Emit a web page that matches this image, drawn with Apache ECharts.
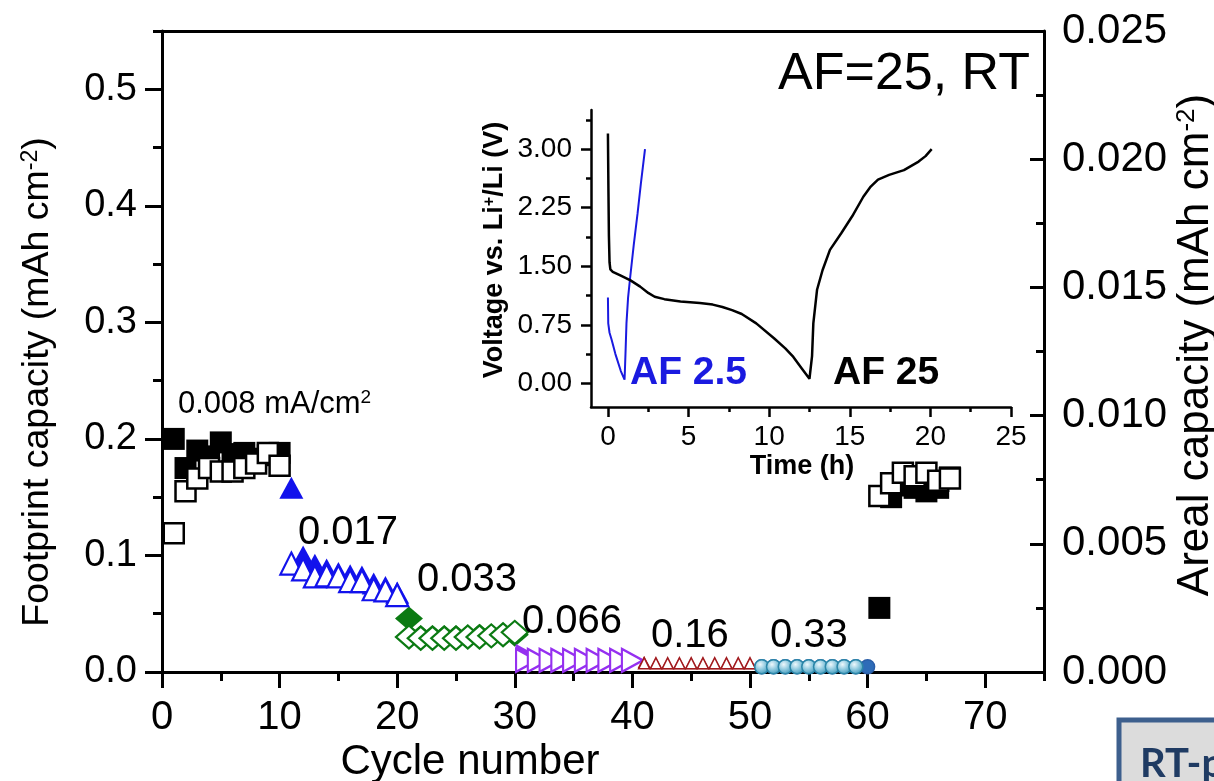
<!DOCTYPE html>
<html>
<head>
<meta charset="utf-8">
<title>Footprint capacity vs cycle number</title>
<script src="https://cdn.jsdelivr.net/npm/echarts@6/dist/echarts.min.js"></script>
<style>
  html, body { margin: 0; padding: 0; background: #fff; }
  #chart { width: 1214px; height: 781px; }
</style>
</head>
<body>
<div id="chart"></div>
<script>
// ---- Cycling data: footprint capacity (mAh cm^-2) per current-density step ----
// 0.008 mA/cm2
const cyclesA    = [1, 2, 3, 4, 5, 6, 7, 8, 9, 10];
const dischargeA = [0.200, 0.175, 0.190, 0.185, 0.197, 0.187, 0.188, 0.183, 0.186, 0.188];
const chargeA    = [0.119, 0.155, 0.166, 0.175, 0.172, 0.172, 0.175, 0.179, 0.188, 0.177];
// 0.017
const cyclesB    = [11, 12, 13, 14, 15, 16, 17, 18, 19, 20];
const dischargeB = [0.158, 0.099, 0.092, 0.088, 0.085, 0.083, 0.082, 0.076, 0.073, 0.068];
const chargeB    = [0.093, 0.088, 0.082, 0.083, 0.082, 0.078, 0.078, 0.071, 0.070, 0.066];
// 0.033
const cyclesC    = [21, 22, 23, 24, 25, 26, 27, 28, 29, 30];
const dischargeC = [0.046, 0.030, 0.030, 0.030, 0.030, 0.030, 0.031, 0.031, 0.032, 0.032];
const chargeC    = [0.030, 0.029, 0.029, 0.029, 0.029, 0.030, 0.030, 0.031, 0.032, 0.034];
// 0.066
const cyclesD    = [31, 32, 33, 34, 35, 36, 37, 38, 39, 40];
const dischargeD = [0.014, 0.010, 0.010, 0.010, 0.010, 0.010, 0.010, 0.010, 0.010, 0.010];
const chargeD    = [0.010, 0.010, 0.010, 0.010, 0.010, 0.010, 0.010, 0.010, 0.010, 0.010];
// 0.16
const cyclesE    = [41, 42, 43, 44, 45, 46, 47, 48, 49, 50];
const dischargeE = [0.0085, 0.0075, 0.0075, 0.0075, 0.0075, 0.0075, 0.0075, 0.0075, 0.0075, 0.0075];
const chargeE    = [0.0075, 0.0075, 0.0075, 0.0075, 0.0075, 0.0075, 0.0075, 0.0075, 0.0075, 0.0075];
// 0.33
const cyclesF    = [51, 52, 53, 54, 55, 56, 57, 58, 59, 60];
const dischargeF = [0.0045, 0.0045, 0.0045, 0.0045, 0.0045, 0.0045, 0.0045, 0.0045, 0.0045, 0.0045];
const chargeF    = [0.0045, 0.0045, 0.0045, 0.0045, 0.0045, 0.0045, 0.0045, 0.0045, 0.0045, null];
// back to 0.008
const cyclesG    = [61, 62, 63, 64, 65, 66, 67];
const dischargeG = [0.055, 0.150, 0.160, 0.158, 0.155, 0.158, 0.167];
const chargeG    = [0.151, 0.162, 0.171, 0.168, 0.171, 0.164, 0.166];

// Step labels (current densities)
const stepLabels = ['0.017', '0.033', '0.066', '0.16', '0.33'];

// Axis ticks
const cycleTicks      = [0, 10, 20, 30, 40, 50, 60, 70];
const cycleMinorTicks = [5, 15, 25, 35, 45, 55, 65, 75];
const footTicks       = [0, 0.1, 0.2, 0.3, 0.4, 0.5];
const footMinorTicks  = [0.05, 0.15, 0.25, 0.35, 0.45, 0.55];
const arealTicks      = [0, 0.005, 0.010, 0.015, 0.020, 0.025];
const arealMinorTicks = [0.0025, 0.0075, 0.0125, 0.0175, 0.0225];

// ---- Inset: voltage profiles ----
const timeAF25 = [0, 0.03, 0.06, 0.1, 0.15, 0.3, 0.8, 1.4, 2.0, 2.5, 2.9, 3.5, 4.5, 5.7, 6.5, 7.1, 7.7, 8.3, 9.2, 10.3, 11.0, 11.5, 12.0, 12.5, 12.6,
                  12.66, 12.74, 12.97, 13.31, 13.77, 14.46, 15.15, 15.84, 16.30, 16.75, 17.44, 18.36, 19.27, 19.7, 20.08];
const voltAF25 = [3.2, 2.5, 1.9, 1.55, 1.46, 1.43, 1.38, 1.32, 1.24, 1.16, 1.11, 1.08, 1.05, 1.03, 1.01, 0.98, 0.94, 0.89, 0.77, 0.58, 0.45, 0.34, 0.20, 0.06, 0.04,
                  0.35, 0.77, 1.20, 1.45, 1.71, 1.92, 2.14, 2.39, 2.52, 2.61, 2.67, 2.73, 2.84, 2.91, 3.0];
const timeAF2_5 = [0, 0.02, 0.1, 0.23, 0.46, 0.8, 1.03, 1.05, 1.1, 1.15, 1.25, 1.38, 1.6, 1.84, 2.05, 2.3];
const voltAF2_5 = [1.1, 0.77, 0.65, 0.56, 0.38, 0.16, 0.05, 0.15, 0.45, 0.77, 1.10, 1.36, 1.77, 2.18, 2.57, 3.0];

const timeTicks       = [0, 5, 10, 15, 20, 25];
const timeMinorTicks  = [2.5, 7.5, 12.5, 17.5, 22.5];
const voltTicks       = [0, 0.75, 1.5, 2.25, 3.0];
const voltMinorTicks  = [0.375, 1.125, 1.875, 2.625, 3.375];

// ---- Drawing ----
const FONT = "'Liberation Sans', Arial, Helvetica, sans-serif";
const BLACK = '#000';
const BLUE = '#1212ec';
const GREEN = '#0b7a12';
const PURPLE = '#9530f0';
const DARKRED = '#a11a1e';
const TEAL = '#2b86a8';

function pairs(xs, ys) {
  const out = [];
  xs.forEach((x, i) => { if (ys[i] != null) out.push([x, ys[i]]); });
  return out;
}

function marks(name, xs, ys, symbol, size, fill, stroke, bw, rot) {
  return {
    name, type: 'scatter', xAxisIndex: 0, yAxisIndex: 0,
    data: pairs(xs, ys), symbol, symbolSize: size, symbolRotate: rot || 0,
    clip: false, silent: true, animation: false,
    itemStyle: { color: fill, borderColor: stroke, borderWidth: bw, opacity: 1 }
  };
}

const sphere = {
  type: 'radial', x: 0.4, y: 0.35, r: 0.7,
  colorStops: [{ offset: 0, color: '#eef8fc' }, { offset: 0.5, color: '#8cc8de' }, { offset: 1, color: '#3a93b6' }]
};

function majorAxis(base, width) {
  return Object.assign({
    type: 'value', splitLine: { show: false },
    axisLine: { show: true, onZero: false, lineStyle: { color: BLACK, width: width || 3 } },
  }, base);
}

function tickOnlyAxis(base, values, length, inside, width) {
  return Object.assign({
    type: 'value', splitLine: { show: false },
    axisLine: { show: false, onZero: false },
    axisLabel: { show: false },
    axisTick: { show: true, inside: !!inside, length, customValues: values, lineStyle: { color: BLACK, width: width || 3 } }
  }, base);
}

const labelStyle = (size) => ({ color: BLACK, fontFamily: FONT, fontSize: size });

const option = {
  backgroundColor: '#fff',
  animation: false,
  grid: [
    { left: 162, top: 31, width: 882, height: 641, containLabel: false },
    { left: 591, top: 110, width: 420, height: 297, containLabel: false }
  ],
  xAxis: [
    majorAxis({
      gridIndex: 0, position: 'bottom', min: 0, max: 75,
      axisTick: { show: true, length: 16, customValues: cycleTicks, lineStyle: { color: BLACK, width: 3 } },
      axisLabel: Object.assign(labelStyle(40), { customValues: cycleTicks, margin: 26, formatter: v => String(v) })
    }),
    tickOnlyAxis({ gridIndex: 0, position: 'bottom', min: 0, max: 75 }, cycleMinorTicks, 9, false),
    majorAxis({ gridIndex: 0, position: 'top', min: 0, max: 75, axisTick: { show: false }, axisLabel: { show: false } }),
    majorAxis({
      gridIndex: 1, position: 'bottom', min: -1.05, max: 25,
      axisTick: { show: true, length: 10, customValues: timeTicks, lineStyle: { color: BLACK, width: 2.5 } },
      axisLabel: Object.assign(labelStyle(28), { customValues: timeTicks, margin: 16, formatter: v => String(v) })
    }, 2.5),
    tickOnlyAxis({ gridIndex: 1, position: 'bottom', min: -1.05, max: 25 }, timeMinorTicks, 5, false, 2.5)
  ],
  yAxis: [
    majorAxis({
      gridIndex: 0, position: 'left', min: 0, max: 0.55,
      axisTick: { show: true, length: 17, customValues: footTicks, lineStyle: { color: BLACK, width: 3 } },
      axisLabel: Object.assign(labelStyle(38), { customValues: footTicks, margin: 25, formatter: v => v.toFixed(1) })
    }),
    tickOnlyAxis({ gridIndex: 0, position: 'left', min: 0, max: 0.55 }, footMinorTicks, 9, false),
    majorAxis({
      gridIndex: 0, position: 'right', min: 0, max: 0.025,
      axisTick: { show: true, inside: true, length: 14, customValues: arealTicks, lineStyle: { color: BLACK, width: 3 } },
      axisLabel: Object.assign(labelStyle(42), { customValues: arealTicks, margin: 18, formatter: v => v.toFixed(3) })
    }),
    tickOnlyAxis({ gridIndex: 0, position: 'right', min: 0, max: 0.025 }, arealMinorTicks, 8, true),
    majorAxis({
      gridIndex: 1, position: 'left', min: -0.3, max: 3.5,
      axisTick: { show: true, length: 10, customValues: voltTicks, lineStyle: { color: BLACK, width: 2.5 } },
      axisLabel: Object.assign(labelStyle(28), { customValues: voltTicks, margin: 19, formatter: v => v.toFixed(2) })
    }, 2.5),
    tickOnlyAxis({ gridIndex: 1, position: 'left', min: -0.3, max: 3.5 }, voltMinorTicks, 5, false, 2.5)
  ],
  series: [
    // filled markers (discharge) first, open markers (charge) drawn over them
    marks('discharge 0.008', cyclesA, dischargeA, 'rect', 22, BLACK, BLACK, 0),
    marks('discharge 0.017', cyclesB, dischargeB, 'triangle', [24, 22], BLUE, BLUE, 0),
    marks('discharge 0.033', cyclesC, dischargeC, 'diamond', [28, 24], GREEN, GREEN, 0),
    marks('discharge 0.066', cyclesD, dischargeD, 'triangle', [24, 22], PURPLE, PURPLE, 0, -90),
    marks('discharge 0.16', cyclesE, dischargeE, 'triangle', [13, 12], DARKRED, DARKRED, 0),
    marks('discharge 0.33', cyclesF, dischargeF, 'circle', 14, '#2e6cb8', '#2a5ea8', 1.5),
    marks('discharge 0.008 (2)', cyclesG, dischargeG, 'rect', 22, BLACK, BLACK, 0),

    marks('charge 0.008', cyclesA, chargeA, 'rect', 20, '#fff', BLACK, 2.5),
    marks('charge 0.017', cyclesB, chargeB, 'triangle', [22, 22], '#fff', BLUE, 2.2),
    marks('charge 0.033', cyclesC, chargeC, 'diamond', [26, 23], '#fff', GREEN, 2.2),
    marks('charge 0.066', cyclesD, chargeD, 'triangle', [23, 21], '#fff', PURPLE, 2.2, -90),
    marks('charge 0.16', cyclesE, chargeE, 'triangle', [11, 11], '#fff', DARKRED, 1.6),
    marks('charge 0.33', cyclesF, chargeF, 'circle', 14, sphere, TEAL, 1.5),
    marks('charge 0.008 (2)', cyclesG, chargeG, 'rect', 20, '#fff', BLACK, 2.5),

    // inset voltage curves
    {
      name: 'AF 2.5', type: 'line', xAxisIndex: 3, yAxisIndex: 4,
      data: pairs(timeAF2_5, voltAF2_5), showSymbol: false, silent: true, animation: false,
      lineStyle: { color: '#1a1ae0', width: 2 }, clip: false
    },
    {
      name: 'AF 25', type: 'line', xAxisIndex: 3, yAxisIndex: 4,
      data: pairs(timeAF25, voltAF25), showSymbol: false, silent: true, animation: false,
      lineStyle: { color: BLACK, width: 2.5 }, clip: false
    }
  ],
  graphic: []
};

const supRich = (size, weight, color) => ({
  n: { fontSize: size, fontFamily: FONT, fontWeight: weight, fill: color, color },
  sup: { fontSize: Math.round(size * 0.6), fontFamily: FONT, fontWeight: weight, verticalAlign: 'top', fill: color, color }
});

function text(txt, x, y, size, opts) {
  opts = opts || {};
  const weight = opts.weight || 'normal';
  const color = opts.color || BLACK;
  return {
    type: 'text', x, y, rotation: opts.rotation || 0, silent: true, z: 10,
    style: {
      text: txt, fill: color,
      fontSize: size, fontFamily: opts.family || FONT, fontWeight: weight,
      textAlign: opts.align || 'left', textVerticalAlign: 'middle',
      rich: supRich(size, weight, color)
    }
  };
}

option.graphic = [
  text('AF=25, RT', 1030, 75, 52, { align: 'right' }),
  text('{n|0.008 mA/cm}{sup|2}', 178, 404, 31),
  text(stepLabels[0], 298, 533, 40),
  text(stepLabels[1], 417, 580, 40),
  text(stepLabels[2], 522, 622, 40),
  text(stepLabels[3], 651, 636, 40),
  text(stepLabels[4], 770, 636, 40),
  text('Cycle number', 470, 762, 42, { align: 'center' }),
  text('{n|Footprint capacity (mAh cm}{sup|-2}{n|)}', 38, 382, 37.5, { align: 'center', rotation: Math.PI / 2 }),
  text('{n|Areal capacity (mAh cm}{sup|-2}{n|)}', 1196, 345, 44, { align: 'center', rotation: Math.PI / 2 }),
  // inset annotations
  text('{n|Voltage vs. Li}{sup|+}{n|/Li (V)}', 495, 250, 27, { align: 'center', rotation: Math.PI / 2, weight: 'bold' }),
  text('Time (h)', 802, 467, 27, { align: 'center', weight: 'bold' }),
  text('AF 2.5', 630, 373, 39, { weight: 'bold', color: '#1a1ae0' }),
  text('AF 25', 833, 373, 39, { weight: 'bold' }),
  // framed caption in the lower right corner
  {
    type: 'rect', silent: true, z: 9,
    shape: { x: 1119, y: 720, width: 120, height: 80 },
    style: { fill: '#dcdcdc', stroke: '#3d5f8d', lineWidth: 5 }
  },
  text('RT-p', 1140, 764, 40, { weight: 'bold', color: '#1f3b63', family: "Lato, 'Open Sans', sans-serif" })
];

const chart = echarts.init(document.getElementById('chart'), null, { renderer: 'canvas', width: 1214, height: 781 });
chart.setOption(option);
</script>
</body>
</html>
